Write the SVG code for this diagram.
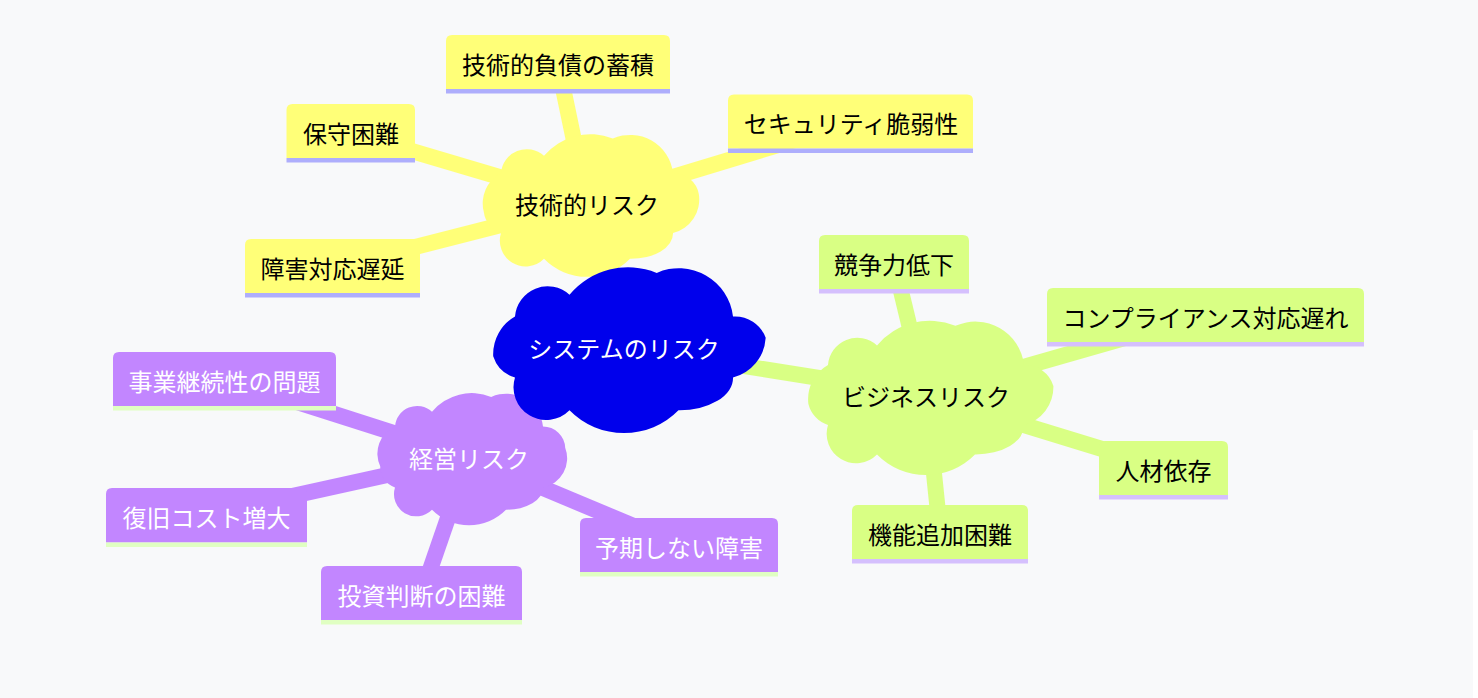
<svg xmlns="http://www.w3.org/2000/svg" width="1478" height="698" viewBox="0 0 1478 698">
<style>
text{font-family:"Noto Sans CJK JP","Noto Sans",sans-serif;font-size:24px;text-anchor:middle;dominant-baseline:central}
.e{fill:none;stroke-width:16}
.ey{stroke:#ffff78}.el{stroke:#d9ff84}.ep{stroke:#c286ff}
.fy{fill:#ffff78}.fl{fill:#d9ff84}.fp{fill:#c286ff}.fr{fill:#0000ec}
.sy{fill:#aeaefc}.sl{fill:#d5c0fd}.sp{fill:#e0ffc2}
.tb{fill:#000}.tw{fill:#fff}
</style>
<rect width="1478" height="698" fill="#f8f9fa"/>
<rect x="1473" y="430" width="5" height="268" fill="#ffffff"/>
<g id="connectors">
<line class="e ey" x1="624" y1="347" x2="587" y2="203"/>
<line class="e el" x1="624" y1="347" x2="926" y2="395"/>
<line class="e ep" x1="624" y1="347" x2="469" y2="457"/>
<line class="e ey" x1="587" y1="203" x2="558" y2="64"/>
<line class="e ey" x1="587" y1="203" x2="351" y2="133"/>
<line class="e ey" x1="587" y1="203" x2="851" y2="123"/>
<line class="e ey" x1="587" y1="203" x2="333" y2="268"/>
<line class="e el" x1="926" y1="395" x2="894" y2="262"/>
<line class="e el" x1="926" y1="395" x2="1205" y2="315"/>
<line class="e el" x1="926" y1="395" x2="1164" y2="468"/>
<line class="e el" x1="926" y1="395" x2="940" y2="532"/>
<line class="e ep" x1="469" y1="457" x2="225" y2="379"/>
<line class="e ep" x1="469" y1="457" x2="206" y2="515"/>
<line class="e ep" x1="469" y1="457" x2="422" y2="593"/>
<line class="e ep" x1="469" y1="457" x2="679" y2="545"/>
</g>
<g id="tech">
<path class="fy" transform="translate(501,173)" d="M0 0 a25.8,25.8 0 0,1 43,-17.2 a60.2,60.2 1 0,1 68.8,-17.2 a43,43 1 0,1 60.2,34.4 a25.8,25.8 1 0,1 25.8,21 a34.4,34.4 1 0,1 -25.8,39 a43,25.8 1 0,1 -43,25.8 a60.2,60.2 1 0,1 -86,0 a25.8,25.8 1 0,1 -43,-25.8 a25.8,25.8 1 0,1 -17.2,-21 a34.4,34.4 1 0,1 17.2,-39 H0 V0 Z"/>
<text class="tb" x="587" y="203">技術的リスク</text>
</g>
<g id="business">
<path class="fl" transform="translate(828,365)" d="M0 0 a29.4,29.4 0 0,1 49,-19.6 a68.6,68.6 1 0,1 78.4,-19.6 a49,49 1 0,1 68.6,39.2 a29.4,29.4 1 0,1 29.4,21 a39.2,39.2 1 0,1 -29.4,39 a49,29.4 1 0,1 -49,29.4 a68.6,68.6 1 0,1 -98,0 a29.4,29.4 1 0,1 -49,-29.4 a29.4,29.4 1 0,1 -19.6,-21 a39.2,39.2 1 0,1 19.6,-39 H0 V0 Z"/>
<text class="tb" x="926" y="395">ビジネスリスク</text>
</g>
<g id="management">
<path class="fp" transform="translate(395,426.5)" d="M0 0 a22.2,22.2 0 0,1 37,-14.8 a51.8,51.8 1 0,1 59.2,-14.8 a37,37 1 0,1 51.8,29.6 a22.2,22.2 1 0,1 22.2,21.35 a29.6,29.6 1 0,1 -22.2,39.65 a37,22.2 1 0,1 -37,22.2 a51.8,51.8 1 0,1 -74,0 a22.2,22.2 1 0,1 -37,-22.2 a22.2,22.2 1 0,1 -14.8,-21.35 a29.6,29.6 1 0,1 14.8,-39.65 H0 V0 Z"/>
<text class="tw" x="469" y="457">経営リスク</text>
</g>
<g id="root">
<path class="fr" transform="translate(515,316.5)" d="M0 0 a32.7,32.7 0 0,1 54.5,-21.8 a76.3,76.3 1 0,1 87.2,-21.8 a54.5,54.5 1 0,1 76.3,43.6 a32.7,32.7 1 0,1 32.7,21.35 a43.6,43.6 1 0,1 -32.7,39.65 a54.5,32.7 1 0,1 -54.5,32.7 a76.3,76.3 1 0,1 -109,0 a32.7,32.7 1 0,1 -54.5,-32.7 a32.7,32.7 1 0,1 -21.8,-21.35 a43.6,43.6 1 0,1 21.8,-39.65 H0 V0 Z"/>
<text class="tw" x="624" y="347">システムのリスク</text>
</g>
<g id="debt">
<path class="fy" d="M446 89 V41 Q446 35 452 35 H664 Q670 35 670 41 V89 Z"/>
<rect class="sy" x="446" y="89" width="224" height="4.5"/>
<text class="tb" x="558" y="63">技術的負債の蓄積</text>
</g>
<g id="maintenance">
<path class="fy" d="M286.5 158 V110 Q286.5 104 292.5 104 H409 Q415 104 415 110 V158 Z"/>
<rect class="sy" x="286.5" y="158" width="128.5" height="4.5"/>
<text class="tb" x="351" y="132">保守困難</text>
</g>
<g id="security">
<path class="fy" d="M728 148.5 V100.5 Q728 94.5 734 94.5 H967 Q973 94.5 973 100.5 V148.5 Z"/>
<rect class="sy" x="728" y="148.5" width="245" height="4.5"/>
<text class="tb" x="851" y="122.5">セキュリティ脆弱性</text>
</g>
<g id="incident">
<path class="fy" d="M245 293 V245 Q245 239 251 239 H414 Q420 239 420 245 V293 Z"/>
<rect class="sy" x="245" y="293" width="175" height="4.5"/>
<text class="tb" x="332.5" y="267">障害対応遅延</text>
</g>
<g id="competition">
<path class="fl" d="M819 289 V241 Q819 235 825 235 H963 Q969 235 969 241 V289 Z"/>
<rect class="sl" x="819" y="289" width="150" height="4.5"/>
<text class="tb" x="894" y="263">競争力低下</text>
</g>
<g id="compliance">
<path class="fl" d="M1047 342 V294 Q1047 288 1053 288 H1358 Q1364 288 1364 294 V342 Z"/>
<rect class="sl" x="1047" y="342" width="317" height="4.5"/>
<text class="tb" x="1205.5" y="316">コンプライアンス対応遅れ</text>
</g>
<g id="people">
<path class="fl" d="M1099 495 V447 Q1099 441 1105 441 H1222 Q1228 441 1228 447 V495 Z"/>
<rect class="sl" x="1099" y="495" width="129" height="4.5"/>
<text class="tb" x="1163.5" y="469">人材依存</text>
</g>
<g id="feature">
<path class="fl" d="M852 559 V511 Q852 505 858 505 H1022 Q1028 505 1028 511 V559 Z"/>
<rect class="sl" x="852" y="559" width="176" height="4.5"/>
<text class="tb" x="940" y="533">機能追加困難</text>
</g>
<g id="continuity">
<path class="fp" d="M113 406 V358 Q113 352 119 352 H330 Q336 352 336 358 V406 Z"/>
<rect class="sp" x="113" y="406" width="223" height="4.5"/>
<text class="tw" x="224.5" y="380">事業継続性の問題</text>
</g>
<g id="recovery">
<path class="fp" d="M106 542.5 V494 Q106 488 112 488 H301 Q307 488 307 494 V542.5 Z"/>
<rect class="sp" x="106" y="542.5" width="201" height="4.5"/>
<text class="tw" x="206.5" y="516">復旧コスト増大</text>
</g>
<g id="investment">
<path class="fp" d="M321 620 V572 Q321 566 327 566 H516 Q522 566 522 572 V620 Z"/>
<rect class="sp" x="321" y="620" width="201" height="4.5"/>
<text class="tw" x="421.5" y="594">投資判断の困難</text>
</g>
<g id="unexpected">
<path class="fp" d="M580 572 V524 Q580 518 586 518 H772 Q778 518 778 524 V572 Z"/>
<rect class="sp" x="580" y="572" width="198" height="4.5"/>
<text class="tw" x="679" y="546">予期しない障害</text>
</g>
</svg>
